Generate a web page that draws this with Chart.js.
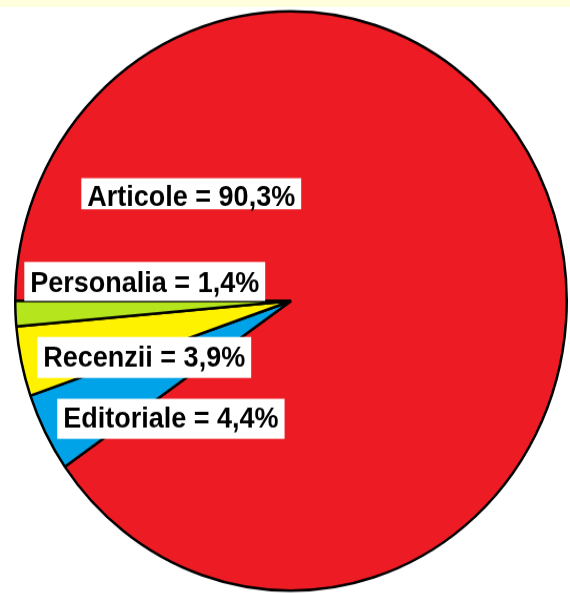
<!DOCTYPE html>
<html>
<head>
<meta charset="utf-8">
<script src="https://cdn.jsdelivr.net/npm/chart.js@4"></script>
<style>
  html, body { margin: 0; padding: 0; background: #fff; overflow: hidden; width: 570px; height: 593px; }
  .strip { position: absolute; left: 0; top: 0; width: 570px; height: 7px; background: #ffffde; }
  .wrap { position: absolute; left: 0; top: 0; width: 570px; height: 575px; transform: scaleY(1.0505); transform-origin: 0 0; }
</style>
</head>
<body>
<div class="strip"></div>
<div class="wrap"><canvas id="pie" width="570" height="575"></canvas></div>
<script>
// slices, drawn clockwise from the 9 o'clock position
const categories = ['Articole', 'Editoriale', 'Recenzii', 'Personalia'];
const values = [90.3, 4.4, 3.9, 1.4];
const colors = ['#ed1c24', '#00a2e8', '#fff200', '#b5e61d'];

// where each label box sits, as fractions of the radius from the centre
const labelPos = [
    { dx: -0.736, dy: -0.326, padTop: 26.7, padBottom: 2.9 },
    { dx: -0.823, dy: 0.436, padTop: 27.6, padBottom: 10.5 },
    { dx: -0.895, dy: 0.227, padTop: 28.6, padBottom: 10.4 },
    { dx: -0.942, dy: -0.031, padTop: 28.6, padBottom: 8.5 },
];

const boxLabels = {
    id: 'boxLabels',
    afterDraw(chart) {
        const ctx = chart.ctx;
        const arcs = chart.getDatasetMeta(0).data;
        const cx = arcs[0].x;
        const cy = arcs[0].y;
        const r = arcs[0].outerRadius + 1;
        ctx.save();
        ctx.font = 'bold 27px "Liberation Sans", Arial, sans-serif';
        ctx.textBaseline = 'alphabetic';
        categories.forEach((cat, i) => {
            const text = cat + ' = ' + values[i].toFixed(1).replace('.', ',') + '%';
            const p = labelPos[i];
            const x = cx + p.dx * r;
            const y = cy + p.dy * r;
            const w = ctx.measureText(text).width;
            ctx.fillStyle = '#fff';
            ctx.fillRect(x - 6, y - p.padTop, w + 12, p.padTop + p.padBottom);
            ctx.fillStyle = '#000';
            ctx.fillText(text, x, y);
        });
        ctx.restore();
    }
};

new Chart(document.getElementById('pie').getContext('2d'), {
    type: 'pie',
    data: {
        labels: categories,
        datasets: [{
            data: values,
            backgroundColor: colors,
            borderColor: '#000',
            borderWidth: 2.5,
        }],
    },
    options: {
        responsive: false,
        animation: false,
        rotation: 270,
        layout: { padding: { left: 14, right: 2, top: 9.5, bottom: 11.5 } },
        plugins: {
            legend: { display: false },
            tooltip: { enabled: false },
        },
    },
    plugins: [boxLabels],
});
</script>
</body>
</html>
